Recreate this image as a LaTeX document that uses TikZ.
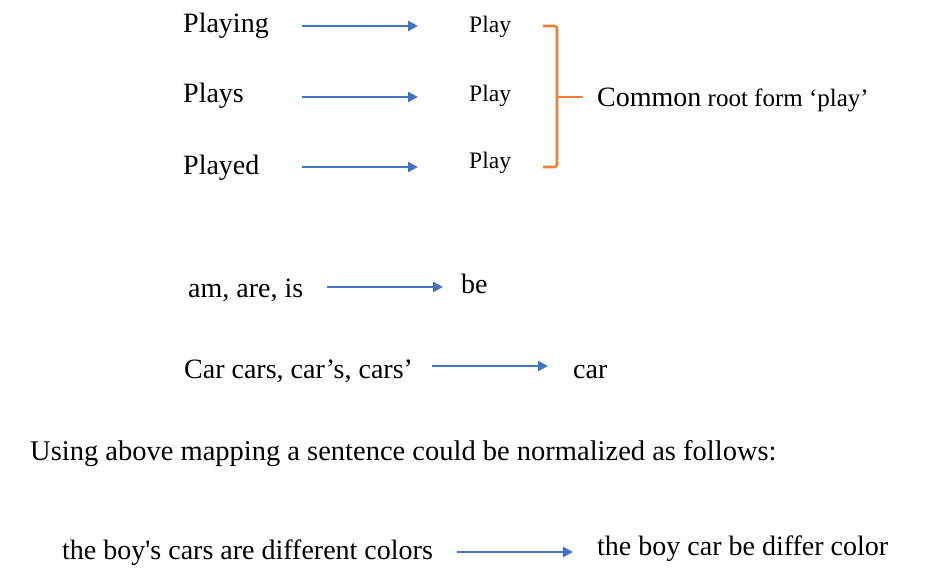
\documentclass[tikz,border=0pt]{standalone}
\usepackage{fontspec}
\setmainfont{Liberation Serif}
\usetikzlibrary{arrows.meta}

\definecolor{mapblue}{HTML}{4472C4}
\definecolor{braceorange}{HTML}{ED7D31}

\begin{document}
\begin{tikzpicture}[x=1pt,y=-1pt,
    word/.style={inner sep=0pt, anchor=base west, font=\fontsize{28}{32}\selectfont},
    root/.style={word, font=\fontsize{23.6}{26}\selectfont},
    mapto/.style={draw=mapblue, line width=2.8pt, -{Triangle[length=10pt,width=10pt]}},
    brace/.style={draw=braceorange, line width=2.6pt, rounded corners=2.5pt},
]
    \useasboundingbox (0,0) rectangle (930,583);
    % inflected forms of play, all to one root
    \node[word] (playing) at (183,33) {Playing};
    \node[word] (plays) at (183,103) {Plays};
    \node[word] (played) at (183,175) {Played};
    \node[root] (play1) at (469,33) {Play};
    \node[root] (play2) at (469,102) {Play};
    \node[root] (play3) at (469,169) {Play};
    \draw[mapto] ([xshift=33.4pt,yshift=7pt]playing.base east) -- ([xshift=-51pt,yshift=7pt]playing.base east -| play1.west);
    \draw[mapto] ([xshift=58.3pt,yshift=6pt]plays.base east) -- ([xshift=-51pt,yshift=6pt]plays.base east -| play2.west);
    \draw[mapto] ([xshift=42.8pt,yshift=8pt]played.base east) -- ([xshift=-51pt,yshift=8pt]played.base east -| play3.west);
    % bracket round the three roots
    \node[word, font=\fontsize{25}{28}\selectfont] (common) at (597,107)
        {{\fontsize{28}{30}\selectfont Common} root form ‘play’};
    \coordinate (bracemid) at (557,97);
    \draw[brace] (543,26) -- (557,26) -- (557,167) -- (543,167);
    \draw[brace] (bracemid) -- ([xshift=-14pt]bracemid -| common.west);
    % other mappings
    \node[word] (amare) at (188,297) {am, are, is};
    \node[word] (be) at (461,293) {be};
    \draw[mapto] ([xshift=24pt,yshift=10pt]amare.base east) -- ([xshift=-18pt,yshift=10pt]amare.base east -| be.west);
    \node[word] (cars) at (184,378) {Car cars, car’s, cars’};
    \node[word] (car) at (573,378) {car};
    \draw[mapto] ([xshift=18.7pt,yshift=12pt]cars.base east) -- ([xshift=-25pt,yshift=12pt]cars.base east -| car.west);
    % example sentence
    \node[word, font=\fontsize{28.5}{32}\selectfont] (using) at (30,460)
        {Using above mapping a sentence could be normalized as follows:};
    \node[word] (sentence) at (62,559) {the boy\textquotesingle s cars are different colors};
    \node[word] (normal) at (597,555) {the boy car be differ color};
    \draw[mapto] ([xshift=24pt,yshift=7pt]sentence.base east) -- ([xshift=-24pt,yshift=7pt]sentence.base east -| normal.west);
\end{tikzpicture}
\end{document}
